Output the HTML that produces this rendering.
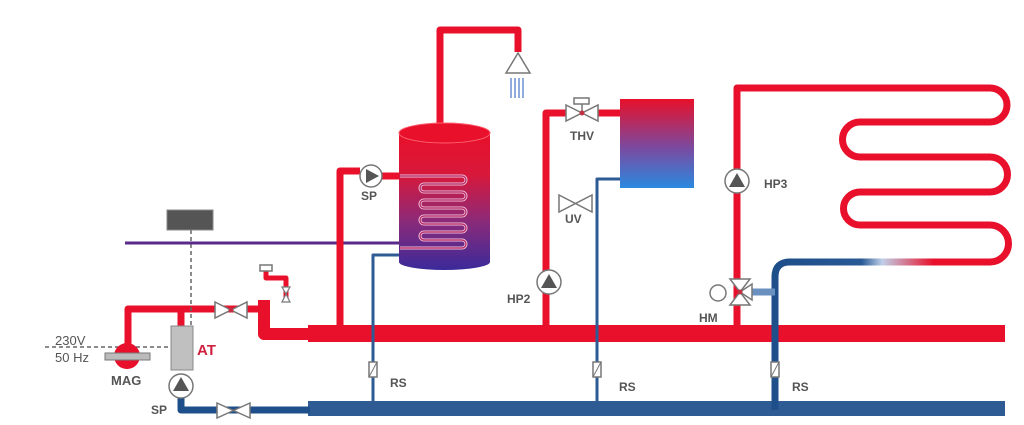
<!DOCTYPE html>
<html><head><meta charset="utf-8"><style>
html,body{margin:0;padding:0;background:#fff;width:1024px;height:425px;overflow:hidden}
text{font-family:"Liberation Sans",sans-serif;font-weight:bold;fill:#555;font-size:12px}
</style></head><body>
<svg width="1024" height="425" viewBox="0 0 1024 425" xmlns="http://www.w3.org/2000/svg">
<defs>
<linearGradient id="tank" x1="0" y1="0" x2="0" y2="1"><stop offset="0" stop-color="#e8102a"/><stop offset="0.3" stop-color="#d8183a"/><stop offset="0.65" stop-color="#8a2a7a"/><stop offset="1" stop-color="#3a2a9a"/></linearGradient>
<linearGradient id="rad" x1="0" y1="0" x2="0" y2="1"><stop offset="0" stop-color="#e8102a"/><stop offset="0.55" stop-color="#7a4aa0"/><stop offset="1" stop-color="#2a8ae0"/></linearGradient>
<linearGradient id="ret" gradientUnits="userSpaceOnUse" x1="790" y1="0" x2="995" y2="0"><stop offset="0" stop-color="#1e4f8a"/><stop offset="0.35" stop-color="#2a5a95"/><stop offset="0.45" stop-color="#c0d0e8"/><stop offset="0.7" stop-color="#e8102a"/><stop offset="1" stop-color="#e8102a"/></linearGradient>
</defs>
<g fill="none" stroke-linejoin="round">
<rect x="308" y="325" width="697" height="17" fill="#e8102a" stroke="none"/>
<rect x="308" y="401" width="697" height="15" fill="#2e5b94" stroke="none"/>
<path d="M128 345 V309 H262" stroke="#e8102a" stroke-width="7"/>
<path d="M181 309 V326" stroke="#e8102a" stroke-width="7"/>
<path d="M264 300 V334 H310" stroke="#e8102a" stroke-width="12"/>
<path d="M266 270 V278 H286 V300" stroke="#e8102a" stroke-width="5"/>
<path d="M181 397 V410 H310" stroke="#1e4f8a" stroke-width="7"/>
<path d="M191 230 V326" stroke="#666" stroke-width="1.5" stroke-dasharray="4,3"/>
<path d="M45 347 H170" stroke="#666" stroke-width="1.5" stroke-dasharray="4,3"/>
<line x1="125" y1="243" x2="400" y2="243" stroke="#5a2a8a" stroke-width="3"/>
<path d="M340 330 V171 H360" stroke="#e8102a" stroke-width="7"/>
<path d="M382 176 H400" stroke="#e8102a" stroke-width="7"/>
<path d="M440 128 V30 H518 V52" stroke="#e8102a" stroke-width="7"/>
<path d="M373 410 V255 H400" stroke="#2e5b94" stroke-width="3"/>
<path d="M546 330 V113 H566 M598 113 H622" stroke="#e8102a" stroke-width="7"/>
<path d="M597 410 V179 H622" stroke="#2e5b94" stroke-width="3"/>
<path d="M737 330 V88 H990 A17 17 0 0 1 990 122 H860 A17.5 17.5 0 0 0 860 157 H990 A17.5 17.5 0 0 1 990 192 H860 A16.5 16.5 0 0 0 860 225 H990 A18.5 18.5 0 0 1 990 262" stroke="#e8102a" stroke-width="7"/>
<path d="M991 262 H788" stroke="url(#ret)" stroke-width="7"/>
<path d="M790 262 Q775 262 775 277 V410" stroke="#1e4f8a" stroke-width="7"/>
<path d="M752 292 H775" stroke="#6a90c0" stroke-width="7"/>
</g>
<polygon points="518,53 506,73 530,73" fill="#fff" stroke="#777" stroke-width="1.5"/>
<g stroke="#6a8fd0" stroke-width="1.5"><line x1="511" y1="78" x2="511" y2="98"/><line x1="515" y1="78" x2="515" y2="98"/><line x1="519" y1="78" x2="519" y2="98"/><line x1="523" y1="78" x2="523" y2="98"/></g>
<path d="M399 133 V262 A45.5 8 0 0 0 490 262 V133 Z" fill="url(#tank)"/>
<ellipse cx="444.5" cy="133" rx="45.5" ry="10" fill="#e8102a" stroke="#ff6070" stroke-width="1"/>
<path d="M400 176 H462 A4 4 0 0 1 462 184 H424 A4 4 0 0 0 424 192 H462 A4 4 0 0 1 462 200 H424 A4 4 0 0 0 424 208 H462 A4 4 0 0 1 462 216 H424 A4 4 0 0 0 424 224 H462 A4 4 0 0 1 462 232 H424 A4 4 0 0 0 424 240 H462 A4 4 0 0 1 462 248 H400" fill="none" stroke="#f0c0d8" stroke-width="3"/>
<path d="M400 176 H462 A4 4 0 0 1 462 184 H424 A4 4 0 0 0 424 192 H462 A4 4 0 0 1 462 200 H424 A4 4 0 0 0 424 208 H462 A4 4 0 0 1 462 216 H424 A4 4 0 0 0 424 224 H462 A4 4 0 0 1 462 232 H424 A4 4 0 0 0 424 240 H462 A4 4 0 0 1 462 248 H400" fill="none" stroke="#b02060" stroke-width="1.2"/>
<rect x="620" y="99" width="74" height="89" fill="url(#rad)"/>
<rect x="167" y="210" width="46" height="20" fill="#555" stroke="#888"/>
<circle cx="127" cy="356" r="13" fill="#e8102a"/>
<rect x="105" y="353" width="45" height="7" fill="#bbb" stroke="#777"/>
<rect x="171" y="326" width="22" height="44" fill="#c0c0c0" stroke="#888"/>
<g fill="#fff" stroke="#777" stroke-width="1.5">
<circle cx="181" cy="386" r="12"/><circle cx="371" cy="176" r="11"/><circle cx="549" cy="282" r="12"/><circle cx="737" cy="181" r="12"/>
</g>
<g fill="#555">
<polygon points="181,377 173,391 189,391"/><polygon points="366,169 366,183 379,176"/><polygon points="549,274 541,288 557,288"/><polygon points="737,173 729,187 745,187"/>
</g>
<g fill="#fff" stroke="#777" stroke-width="1.5">
<polygon points="215,302 247,318 247,302 215,318"/>
<polygon points="217,403 250,418 250,403 217,418"/>
<polygon points="566,105 598,121 598,105 566,121"/>
<line x1="582" y1="104" x2="582" y2="113"/>
<rect x="574" y="98" width="15" height="6"/>
<polygon points="559,195 592,212 592,195 559,212"/>
<rect x="260" y="265" width="12" height="6"/>
<polygon points="730,279 750,279 740,292 750,305 730,305 740,292"/>
<polygon points="740,292 752,284 752,300"/>
<circle cx="718" cy="293" r="8"/>
<polygon points="282,287 290,287 286,294 290,302 282,302 286,294" stroke-width="1.2"/>
<rect x="369" y="362" width="8" height="15"/><rect x="593" y="362" width="8" height="15"/><rect x="771" y="362" width="8" height="15"/>
</g>
<g stroke="#777" stroke-width="1"><line x1="369" y1="377" x2="377" y2="362"/><line x1="593" y1="377" x2="601" y2="362"/><line x1="771" y1="377" x2="779" y2="362"/></g>
<circle cx="582" cy="113" r="2.5" fill="#c03040"/><circle cx="740" cy="292" r="2.5" fill="#c03040"/><circle cx="231" cy="310" r="2.5" fill="#c03040"/>
<text x="55" y="345" style="font-weight:normal;font-size:13px">230V</text>
<text x="55" y="362" style="font-weight:normal;font-size:13px">50 Hz</text>
<text x="111" y="385" style="font-size:13px">MAG</text>
<text x="197" y="355" style="fill:#d02040;font-size:15px">AT</text>
<text x="151" y="414">SP</text>
<text x="361" y="200">SP</text>
<text x="570" y="140">THV</text>
<text x="565" y="223">UV</text>
<text x="507" y="303">HP2</text>
<text x="764" y="188">HP3</text>
<text x="699" y="322">HM</text>
<text x="390" y="387">RS</text>
<text x="619" y="391">RS</text>
<text x="792" y="391">RS</text>
</svg>
</body></html>
